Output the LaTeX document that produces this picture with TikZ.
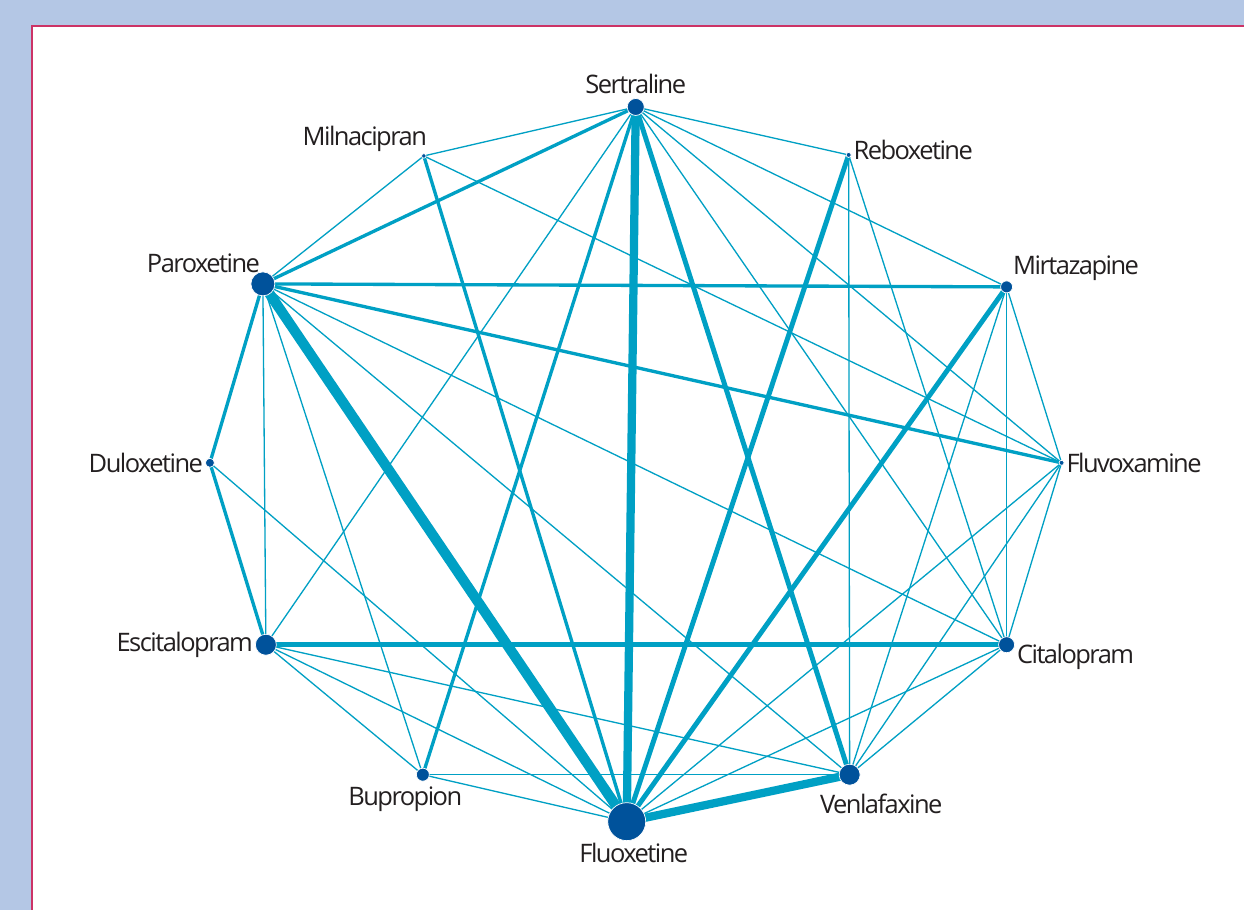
\documentclass[tikz,border=0pt]{standalone}
\usepackage{fontspec}
\setmainfont[LetterSpace=-6]{Open Sans}
\definecolor{panelblue}{RGB}{180,199,229}
\definecolor{framered}{RGB}{204,51,102}
\definecolor{linkteal}{RGB}{0,160,196}
\definecolor{drugblue}{RGB}{0,82,155}
\definecolor{labelgray}{RGB}{35,31,32}

\begin{document}
\begin{tikzpicture}[x=0.02cm,y=-0.02cm,
  drug/.style={circle,fill=drugblue,draw=white,line width=0.4pt,inner sep=0pt},
  few/.style={draw=linkteal,line width=0.75pt},
  some/.style={draw=linkteal,line width=1.9pt},
  many/.style={draw=linkteal,line width=2.8pt},
  most/.style={draw=linkteal,line width=4.7pt},
  every label/.style={font=\fontsize{14.5}{17}\selectfont,text=labelgray,inner sep=1pt}]
\fill[panelblue] (0,0) rectangle (1245,910);
\fill[white] (32,26) rectangle (1245,910);
\draw[framered,line width=0.6pt] (32,910) -- (32,26) -- (1245,26);

\coordinate (Se) at (636,107);
\coordinate (Mi) at (424,156);
\coordinate (Re) at (849,155);
\coordinate (Pa) at (263,284);
\coordinate (Mz) at (1007,287);
\coordinate (Du) at (210,463);
\coordinate (Fv) at (1062,463);
\coordinate (Es) at (266,645);
\coordinate (Ci) at (1007,645);
\coordinate (Bu) at (423,775);
\coordinate (Ve) at (850,775);
\coordinate (Fl) at (627,822);

% single comparisons
\draw[few] (Se) -- (Mi);
\draw[few] (Se) -- (Re);
\draw[few] (Se) -- (Mz);
\draw[few] (Se) -- (Fv);
\draw[few] (Se) -- (Ci);
\draw[few] (Se) -- (Es);
\draw[few] (Mi) -- (Pa);
\draw[few] (Mi) -- (Fv);
\draw[few] (Re) -- (Ve);
\draw[few] (Re) -- (Ci);
\draw[few] (Pa) -- (Es);
\draw[few] (Pa) -- (Bu);
\draw[few] (Pa) -- (Ci);
\draw[few] (Pa) -- (Ve);
\draw[few] (Mz) -- (Ci);
\draw[few] (Mz) -- (Fv);
\draw[few] (Mz) -- (Ve);
\draw[few] (Du) -- (Fl);
\draw[few] (Fv) -- (Ci);
\draw[few] (Fv) -- (Fl);
\draw[few] (Fv) -- (Ve);
\draw[few] (Es) -- (Bu);
\draw[few] (Es) -- (Fl);
\draw[few] (Es) -- (Ve);
\draw[few] (Ci) -- (Ve);
\draw[few] (Ci) -- (Fl);
\draw[few] (Bu) -- (Fl);
\draw[few] (Bu) -- (Ve);

\draw[some] (Se) -- (Pa);
\draw[some] (Pa) -- (Mz);
\draw[some] (Pa) -- (Fv);
\draw[some] (Pa) -- (Du);
\draw[some] (Du) -- (Es);
\draw[some] (Mi) -- (Fl);
\draw[some] (Se) -- (Bu);

\draw[many] (Se) -- (Ve);
\draw[many] (Re) -- (Fl);
\draw[many] (Mz) -- (Fl);
\draw[many] (Es) -- (Ci);

\draw[most] (Se) -- (Fl);
\draw[most] (Fl) -- (Ve);
\draw[most,line width=5.8pt] (Pa) -- (Fl);

% drugs
\node[drug,minimum size=3.4mm,label={[label distance=1.5pt]above:Sertraline}] (se) at (Se) {};
\node[drug,minimum size=0.9mm,label={[xshift=4pt]above left:Milnacipran}] (mi) at (Mi) {};
\node[drug,minimum size=1mm,label={[yshift=2.8pt]right:Reboxetine}] (re) at (Re) {};
\node[drug,minimum size=4.8mm,label={[xshift=4.5pt]above left:Paroxetine}] (pa) at (Pa) {};
\node[drug,minimum size=2.4mm,label=above right:Mirtazapine] (mz) at (Mz) {};
\node[drug,minimum size=1.8mm,label=left:Duloxetine] (du) at (Du) {};
\node[drug,minimum size=1mm,label=right:Fluvoxamine] (fv) at (Fv) {};
\node[drug,minimum size=4.2mm,label=left:Escitalopram] (es) at (Es) {};
\node[drug,minimum size=3.2mm,label={[yshift=-7pt]right:Citalopram}] (ci) at (Ci) {};
\node[drug,minimum size=2.6mm,label={[xshift=-10pt,yshift=-2pt]below:Bupropion}] (bu) at (Bu) {};
\node[drug,minimum size=4.2mm,label={[xshift=18pt,yshift=-3.5pt]below:Venlafaxine}] (ve) at (Ve) {};
\node[drug,minimum size=7.6mm,label={[xshift=4pt]below:Fluoxetine}] (fl) at (Fl) {};
\end{tikzpicture}
\end{document}
